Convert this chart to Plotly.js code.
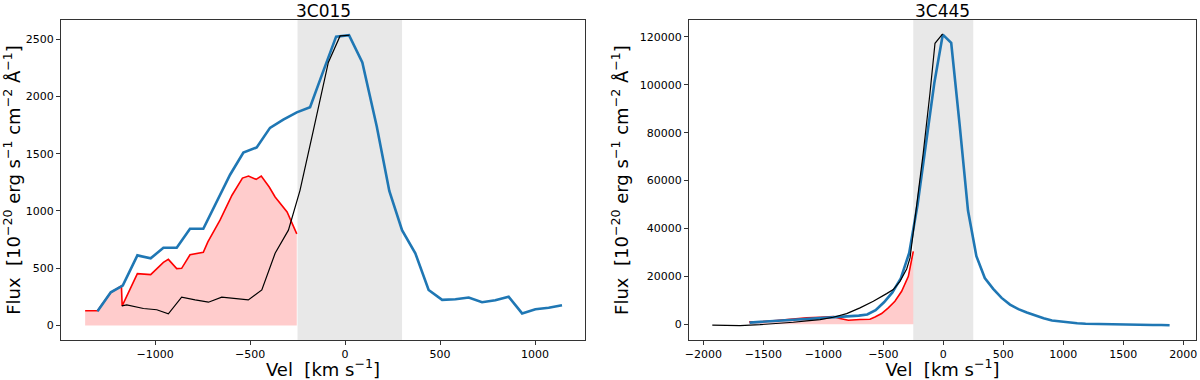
<!DOCTYPE html>
<html>
<head>
<meta charset="utf-8">
<script src="https://cdn.plot.ly/plotly-3.0.1.min.js"></script>
<style>html,body{margin:0;padding:0;background:#fff;}#chart{width:1200px;height:380px;}</style>
</head>
<body>
<div id="chart"></div>
<script>
// ---------- 3C015 (left panel) ----------
const titles = ["3C015", "3C445"];
const velTitle = "Vel  [km s<sup>−1</sup>]";
const fluxTitle = "Flux  [10<sup>−20</sup> erg s<sup>−1</sup> cm<sup>−2</sup> Å<sup>−1</sup>]";

const v15Blue = [-1303, -1233, -1170, -1093, -1023, -956, -886, -816, -746, -675, -605, -535, -465, -395, -325, -254, -184, -114, -47, 21, 91, 167, 233, 300, 370, 440, 511, 581, 651, 721, 791, 861, 932, 1002, 1072, 1142];
const f15Blue = [125, 290, 348, 612, 586, 678, 678, 844, 844, 1078, 1316, 1510, 1554, 1725, 1797, 1861, 1905, 2223, 2522, 2534, 2296, 1737, 1174, 832, 630, 310, 223, 229, 244, 203, 220, 250, 105, 142, 154, 177];

const v15Red = [-1368, -1303, -1233, -1177, -1173, -1093, -1023, -956, -930, -886, -860, -816, -746, -722, -658, -595, -540, -508, -468, -441, -399, -368, -305, -254];
const f15Red = [128, 128, 287, 345, 171, 452, 444, 551, 577, 496, 499, 617, 638, 730, 919, 1137, 1287, 1304, 1276, 1304, 1209, 1122, 991, 800];

const v15Black = [-1175, -1149, -1061, -991, -930, -860, -789, -719, -649, -579, -509, -438, -368, -298, -237, -167, -88, -26, 23];
const f15Black = [171, 180, 148, 137, 102, 247, 223, 203, 247, 232, 223, 310, 630, 832, 1180, 1702, 2296, 2528, 2534];

const span15 = [-250, 300];

// ---------- 3C445 (right panel) ----------
const v445Blue = [-1614, -1544, -1474, -1404, -1334, -1264, -1194, -1124, -1054, -984, -914, -844, -774, -704, -634, -564, -494, -424, -354, -284, -214, -144, -74, -4, 66, 136, 206, 276, 346, 416, 486, 556, 626, 696, 766, 836, 906, 976, 1046, 1116, 1186, 1256, 1326, 1396, 1466, 1536, 1606, 1676, 1746, 1816, 1886];
const f445Blue = [700, 900, 1100, 1500, 1700, 1900, 2100, 2200, 2400, 2600, 2800, 3000, 3300, 3600, 4100, 5900, 9200, 13300, 19200, 29800, 50000, 76000, 101000, 121000, 117500, 83500, 47500, 28400, 19300, 14800, 11000, 8200, 6300, 4900, 3600, 2500, 1600, 1100, 700, 400, 200, 100, 0, -100, -100, -200, -300, -400, -300, -300, -400];

const v445Red = [-1617, -1530, -1389, -1250, -1138, -1027, -917, -861, -791, -694, -611, -569, -514, -458, -403, -347, -291, -250];
const f445Red = [1000, 1050, 1540, 2250, 2670, 2920, 3200, 2380, 1670, 1960, 2100, 3060, 4460, 6840, 9600, 13770, 20000, 30450];

const v445Black = [-1925, -1800, -1694, -1527, -1389, -1250, -1138, -1027, -917, -805, -694, -583, -472, -417, -361, -305, -277, -236, -167, -111, -69, -5];
const f445Black = [-400, -400, -540, -150, 200, 830, 1400, 1960, 2920, 4460, 6840, 9600, 12800, 14470, 17940, 23100, 27700, 43670, 71500, 96500, 117350, 121250];

const span445 = [-250, 250];

const BLUE = "#1f77b4", RED = "#ff0000", BLACK = "#000000";
const FONT = "DejaVu Sans, Liberation Sans, sans-serif";

function panel(vB, fB, vR, fR, vK, fK, xa, ya) {
  return [
    {x: vR, y: fR, xaxis: xa, yaxis: ya, type: "scatter", mode: "lines",
     fill: "tozeroy", fillcolor: "rgba(255,0,0,0.2)", line: {color: RED, width: 1.6}, hoverinfo: "skip"},
    {x: vB, y: fB, xaxis: xa, yaxis: ya, type: "scatter", mode: "lines",
     line: {color: BLUE, width: 2.6}},
    {x: vK, y: fK, xaxis: xa, yaxis: ya, type: "scatter", mode: "lines",
     line: {color: BLACK, width: 1.2}}
  ];
}

const data = [].concat(
  panel(v15Blue, f15Blue, v15Red, f15Red, v15Black, f15Black, "x", "y"),
  panel(v445Blue, f445Blue, v445Red, f445Red, v445Black, f445Black, "x2", "y2")
);

const axBase = {
  showgrid: false, zeroline: false, showline: true, mirror: true,
  linecolor: "#333", linewidth: 1, ticks: "outside", ticklen: 4, tickcolor: "#333",
  tickfont: {family: FONT, size: 11, color: "#000"}, automargin: false
};

const layout = {
  width: 1200, height: 380,
  margin: {l: 0, r: 0, t: 20, b: 40},
  paper_bgcolor: "#fff", plot_bgcolor: "#fff",
  showlegend: false,
  font: {family: FONT, color: "#000"},
  xaxis: Object.assign({}, axBase, {domain: [61/1200, 585/1200], range: [-1495, 1263],
    tickvals: [-1000, -500, 0, 500, 1000],
    title: {text: velTitle, font: {size: 18, family: FONT}, standoff: 3}}),
  yaxis: Object.assign({}, axBase, {domain: [0, 1], range: [-127, 2667],
    tickvals: [0, 500, 1000, 1500, 2000, 2500],
    title: {text: fluxTitle, font: {size: 18, family: FONT}, standoff: 1}}),
  xaxis2: Object.assign({}, axBase, {domain: [689/1200, 1196/1200], range: [-2119, 2106],
    tickvals: [-2000, -1500, -1000, -500, 0, 500, 1000, 1500, 2000],
    title: {text: velTitle, font: {size: 18, family: FONT}, standoff: 3}}),
  yaxis2: Object.assign({}, axBase, {domain: [0, 1], anchor: "x2", range: [-6575, 127075],
    tickvals: [0, 20000, 40000, 60000, 80000, 100000, 120000],
    tickformat: "d",
    title: {text: fluxTitle, font: {size: 18, family: FONT}, standoff: 6}}),
  shapes: [
    {type: "rect", xref: "x", yref: "y domain", x0: span15[0], x1: span15[1], y0: 0, y1: 1,
     fillcolor: "#e8e8e8", line: {width: 0}, layer: "below"},
    {type: "rect", xref: "x2", yref: "y2 domain", x0: span445[0], x1: span445[1], y0: 0, y1: 1,
     fillcolor: "#e8e8e8", line: {width: 0}, layer: "below"}
  ],
  annotations: [
    {text: titles[0], xref: "paper", yref: "paper", x: 323/1200, y: 1, xanchor: "center", yanchor: "bottom",
     yshift: -3, showarrow: false, font: {size: 17, family: FONT, color: "#000"}},
    {text: titles[1], xref: "paper", yref: "paper", x: 942.5/1200, y: 1, xanchor: "center", yanchor: "bottom",
     yshift: -3, showarrow: false, font: {size: 17, family: FONT, color: "#000"}}
  ]
};
layout.xaxis2.anchor = "y2";

Plotly.newPlot("chart", data, layout, {staticPlot: true, displayModeBar: false});
</script>
</body>
</html>
